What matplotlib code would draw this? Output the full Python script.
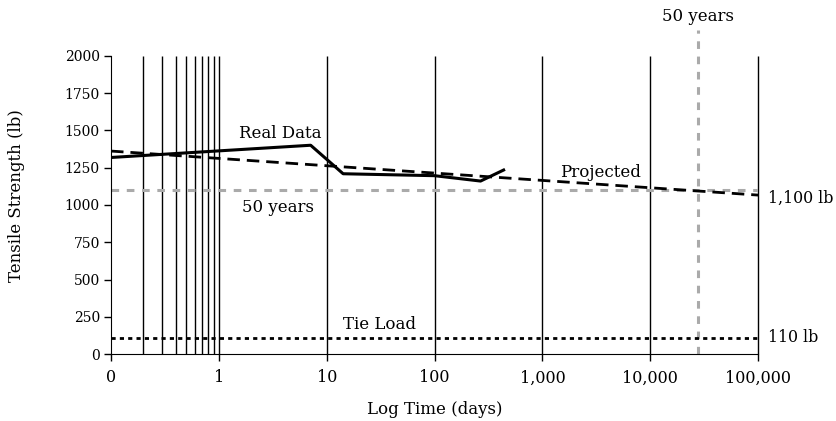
import matplotlib.pyplot as plt
import numpy as np

plt.rcParams['font.family'] = ['DejaVu Serif']

# measured data (days, lb)
real_days = [0.1, 7.1, 14.2, 100, 267, 437]
real_lb = [1318, 1400, 1209, 1196, 1160, 1234]

proj_days = [0.1, 100000]
proj_lb = [1361, 1066]

grid_days = [0.2, 0.3, 0.4, 0.5, 0.6, 0.7, 0.8, 0.9, 1, 10, 100, 1000, 10000, 100000]
xticks = [0.1, 1, 10, 100, 1000, 10000, 100000]
xticklabels = ['0', '1', '10', '100', '1,000', '10,000', '100,000']
yticks = [0, 250, 500, 750, 1000, 1250, 1500, 1750, 2000]

target_lb = 1100
tie_load_lb = 110
fifty_years_days = 27700

fig = plt.figure(figsize=(8.36, 4.21), dpi=100)
ax = fig.add_axes([0.1328, 0.1587, 0.774, 0.709])

ax.vlines(grid_days, 0, 2000, color='black', linewidth=1.0, clip_on=False)

ax.plot([0.1, 100000], [target_lb, target_lb], color='#aaaaaa', linewidth=2.2,
        dashes=(2.5, 2.5))
ax.plot([fifty_years_days, fifty_years_days], [0, 2170], color='#aaaaaa',
        linewidth=2.2, dashes=(2.5, 2.5), clip_on=False)
ax.plot([0.1, 100000], [tie_load_lb, tie_load_lb], color='black', linewidth=2.0,
        dashes=(1.5, 1.5))

ax.plot(proj_days, proj_lb, color='black', linewidth=2.0, dashes=(4.5, 2.5))
ax.plot(real_days, real_lb, color='black', linewidth=2.2)

ax.set_xscale('log')
ax.set_xlim(0.1, 100000)
ax.set_ylim(0, 2000)
ax.set_xticks(xticks)
ax.set_xticklabels(xticklabels)
ax.xaxis.set_minor_locator(plt.NullLocator())
ax.set_yticks(yticks)
ax.tick_params(length=5, width=1)
ax.tick_params(axis='x', labelsize=11.5, pad=6)
ax.tick_params(axis='y', labelsize=10, pad=3)

for s in ['top', 'right']:
    ax.spines[s].set_visible(False)

ax.set_xlabel('Log Time (days)', fontsize=12)
ax.set_ylabel('Tensile Strength (lb)', fontsize=12)
ax.xaxis.set_label_coords(0.5, -0.158)
ax.yaxis.set_label_coords(-0.133, 0.53)

ax.text(3.68, 1482, 'Real Data', fontsize=12, ha='center', va='center')
ax.text(3450, 1220, 'Projected', fontsize=12, ha='center', va='center')
ax.text(3.5, 986, '50 years', fontsize=12, ha='center', va='center')
ax.text(31, 202, 'Tie Load', fontsize=12, ha='center', va='center')
ax.text(fifty_years_days, 2265, '50 years', fontsize=12, ha='center', va='center')
ax.text(1.016, 1045, '1,100 lb', fontsize=11.4, ha='left', va='center',
        transform=ax.get_yaxis_transform())
ax.text(1.016, 110, '110 lb', fontsize=11.4, ha='left', va='center',
        transform=ax.get_yaxis_transform())

fig.savefig('out.png', dpi=100)
